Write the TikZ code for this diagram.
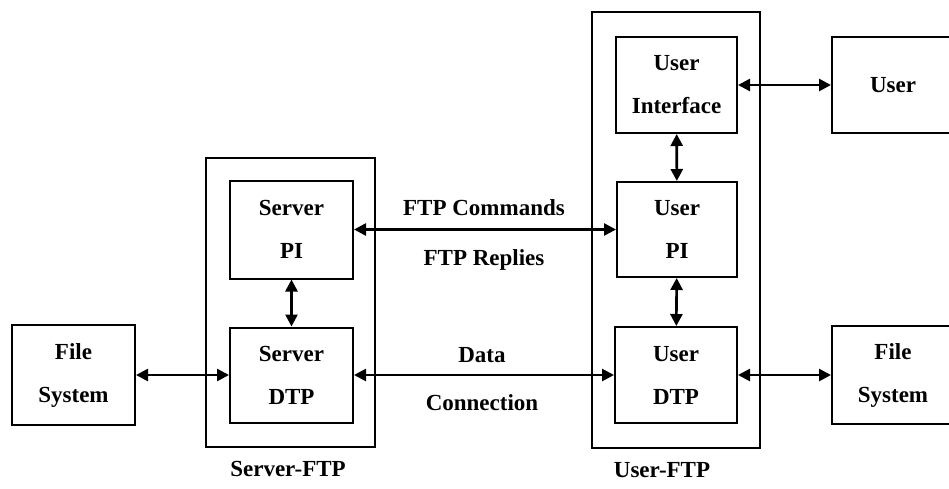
\documentclass[tikz,border=0pt]{standalone}
\usepackage{fontspec}
\setmainfont{Liberation Serif}
\usetikzlibrary{arrows.meta}
\begin{document}
\begin{tikzpicture}[x=1pt,y=-1pt,
  box/.style={draw, line width=2pt, inner sep=0pt, align=center,
    font=\fontsize{23}{43}\selectfont\bfseries},
  frame/.style={draw, line width=1.8pt, inner sep=0pt},
  lbl/.style={anchor=base, inner sep=0pt, font=\fontsize{23}{26}\selectfont\bfseries},
  link/.style={line width=2.6pt,
    {Triangle[length=12pt,width=12pt]}-{Triangle[length=12pt,width=12pt]}}]
\clip (0,0) rectangle (949,488);
\useasboundingbox (0,0) rectangle (949,488);

% enclosing frames for the two FTP processes
\node[frame, minimum width=169pt, minimum height=289pt] (srvftp) at (290.5,302.5) {};
\node[frame, minimum width=168pt, minimum height=436pt] (usrftp) at (676,230) {};

% server side
\node[box, minimum width=123pt, minimum height=100pt] (fsl) at (73.5,375) {File\\System};
\node[box, minimum width=123pt, minimum height=98pt] (spi) at (291.5,229.5) {Server\\PI};
\node[box, minimum width=123pt, minimum height=95pt] (sdtp) at (291.5,375) {Server\\DTP};

% user side
\node[box, minimum width=121pt, minimum height=96pt] (ui) at (676.5,85) {User\\Interface};
\node[box, minimum width=120pt, minimum height=95pt] (upi) at (677,229.5) {User\\PI};
\node[box, minimum width=122pt, minimum height=96pt] (udtp) at (676,375) {User\\DTP};
\node[box, minimum width=122pt, minimum height=96pt] (user) at (893,85) {User};
\node[box, minimum width=122pt, minimum height=98pt] (fsr) at (893,375) {File\\System};

% labels
\node[lbl] (cmd) at (484,215) {FTP Commands};
\node[lbl] (rep) at (484,265) {FTP Replies};
\node[lbl] (data) at (482,362) {Data};
\node[lbl] (conn) at (482,410) {Connection};
\node[lbl] (srvlbl) at (288,476) {Server-FTP};
\node[lbl] (usrlbl) at (662,477) {User-FTP};

% connections
\draw[link] (fsl) -- (sdtp);
\draw[link] (spi) -- (sdtp);
\draw[link] (spi) -- (upi);
\draw[link] (sdtp) -- (udtp);
\draw[link] (ui) -- (upi);
\draw[link] (upi) -- (udtp);
\draw[link] (ui) -- (user);
\draw[link] (udtp) -- (fsr);
\end{tikzpicture}
\end{document}
